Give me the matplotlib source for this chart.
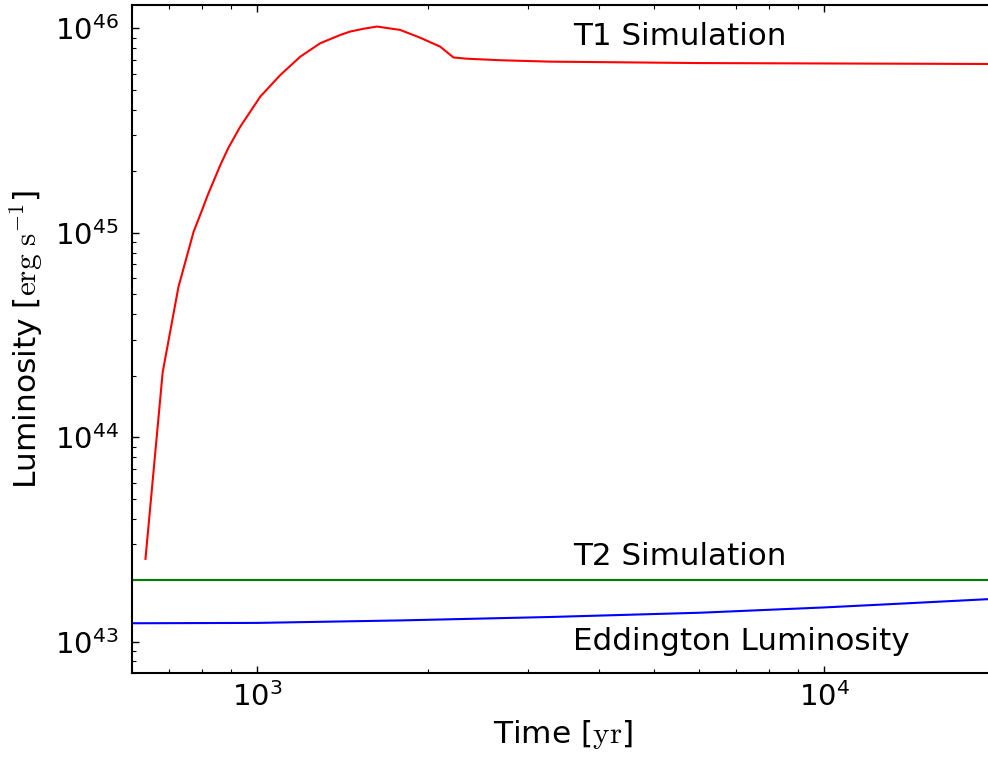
import numpy as np
import matplotlib
matplotlib.use('Agg')
import matplotlib.pyplot as plt

# Values (time in yr, luminosity in erg/s)
t1_time = [635, 681, 726, 772, 799, 817, 861, 889, 933, 1012, 1098, 1191, 1291,
           1401, 1458, 1540, 1626, 1786, 1937, 2102, 2218, 2343, 2680, 3284,
           6040, 20000]
t1_lum = [2.54e43, 2.08e44, 5.43e44, 1.01e45, 1.29e45, 1.52e45, 2.15e45, 2.6e45,
          3.3e45, 4.63e45, 5.91e45, 7.27e45, 8.45e45, 9.28e45, 9.64e45, 9.95e45,
          1.02e46, 9.82e45, 9.0e45, 8.13e45, 7.2e45, 7.1e45, 6.98e45, 6.87e45,
          6.76e45, 6.69e45]

t2_time = [600, 20000]
t2_lum = [2.0e43, 2.0e43]

edd_time = [600, 1000, 1790, 3284, 6040, 10000, 14000, 20000]
edd_lum = [1.23e43, 1.235e43, 1.27e43, 1.32e43, 1.385e43, 1.47e43, 1.54e43, 1.62e43]

xlim = (600, 2e4)
ylim = (7e42, 1.3e46)

plt.rcParams['mathtext.fontset'] = 'cm'
plt.rcParams['font.family'] = 'DejaVu Sans'

fig = plt.figure(figsize=(9.88, 7.59), dpi=100)
ax = fig.add_axes([0.1331, 0.1129, 0.874, 0.8805])

ax.plot(t1_time, t1_lum, color='red', lw=1.5)
ax.plot(t2_time, t2_lum, color='green', lw=1.5)
ax.plot(edd_time, edd_lum, color='blue', lw=1.5)

ax.set_xscale('log')
ax.set_yscale('log')
ax.set_xlim(*xlim)
ax.set_ylim(*ylim)

# classic look: inward ticks on every side
ax.tick_params(which='both', direction='in', top=True, right=True)
ax.tick_params(which='major', length=5, width=1, labelsize=21)
ax.tick_params(which='minor', length=3, width=0.8)
ax.tick_params(axis='x', which='major', pad=6)
ax.tick_params(axis='y', which='major', pad=9)
for sp in ax.spines.values():
    sp.set_linewidth(1.5)

ax.text(0.511, 0.940, 'T1 Simulation', transform=ax.transAxes, fontsize=22.3, va='baseline')
ax.text(0.511, 0.162, 'T2 Simulation', transform=ax.transAxes, fontsize=22.3, va='baseline')
ax.text(0.511, 0.035, 'Eddington Luminosity', transform=ax.transAxes, fontsize=22.3, va='baseline')

ax.set_xlabel(r'Time [$\mathrm{yr}$]', fontsize=22.5, labelpad=5)
ax.set_ylabel(r'Luminosity [$\mathrm{erg\ s^{-1}}$]', fontsize=22.5, labelpad=7)

plt.savefig('out.png', dpi=100)
plt.close()
